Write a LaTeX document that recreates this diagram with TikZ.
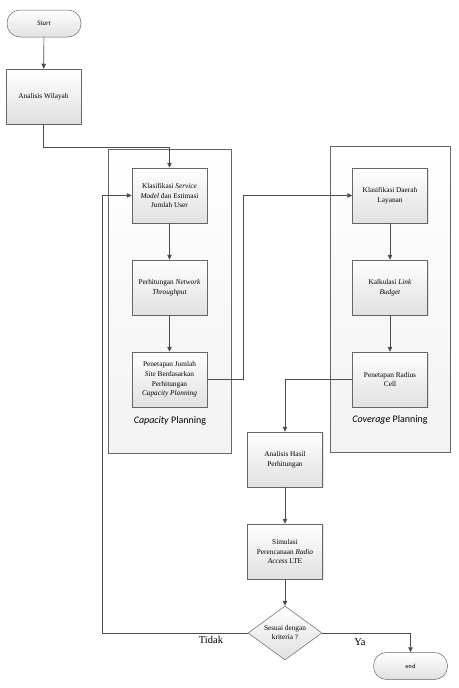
\documentclass[tikz,border=0pt]{standalone}
\usepackage{fontspec}
\setmainfont{Liberation Serif}
\newfontfamily\carlfont{Carlito}
\usetikzlibrary{shapes.geometric,shadows,arrows.meta}
\begin{document}
\begin{tikzpicture}[x=1pt,y=-1pt,
  line/.style={draw=black!70, line width=0.7pt},
  arr/.style={line, -{Triangle[length=5pt,width=4.5pt]}},
  procbox/.style={draw=black!60, line width=0.5pt, top color=white, bottom color=black!12,
    minimum width=75pt, minimum height=55pt, align=center, inner sep=2pt,
    font=\fontsize{7.3}{9.6}\selectfont,
    drop shadow={opacity=0.2, shadow xshift=1pt, shadow yshift=-1pt}},
  termbox/.style={draw=black!60, line width=0.5pt, top color=white, bottom color=black!12,
    rounded corners=13pt, minimum width=74pt, minimum height=27pt, align=center},
  group/.style={draw=black!60, line width=0.6pt, top color=white, bottom color=black!5},
  grouplabel/.style={font=\carlfont\fontsize{10}{12}\selectfont},
  yn/.style={font=\fontsize{10.5}{12}\selectfont}
]
\useasboundingbox (0,0) rectangle (458,688);
% containers
\path[group] (108,149) rectangle (231,453);
\path[group] (330,146) rectangle (450,452);
\node[grouplabel] (capl) at (170,421) {\textit{Capacity} Planning};
\node[grouplabel] (covl) at (390,420) {\textit{Coverage} Planning};

% nodes
\node[termbox, font=\fontsize{7}{8}\selectfont\itshape] (start) at (44,23.5) {Start};
\node[procbox] (wil) at (43.5,96.5) {Analisis Wilayah};
\node[procbox] (ks) at (169.5,195.5) {Klasifikasi \textit{Service}\\ \textit{Model} dan Estimasi\\ Jumlah User};
\node[procbox] (nt) at (169.5,287.5) {Perhitungan \textit{Network}\\ \textit{Throughput}};
\node[procbox] (pj) at (169.5,379.5) {Penetapan Jumlah\\ \textit{Site} Berdasarkan\\ Perhitungan\\ \textit{Capacity Planning}};
\node[procbox] (kd) at (390,195.5) {Klasifikasi Daerah\\ Layanan};
\node[procbox] (lb) at (390,287.5) {Kalkulasi \textit{Link}\\ \textit{Budget}};
\node[procbox] (pr) at (390,379.5) {Penetapan Radius\\ Cell};
\node[procbox] (ah) at (285,459.5) {Analisis Hasil\\ Perhitungan};
\node[procbox] (sim) at (285,551.5) {Simulasi\\ Perencanaan \textit{Radio}\\ \textit{Access} LTE};
\node[diamond, draw=black!60, line width=0.5pt, top color=white, bottom color=black!12,
  aspect=1.37, minimum width=74pt, minimum height=54pt, inner sep=0pt,
  align=center, font=\fontsize{7.3}{9}\selectfont] (dia) at (285,633) {Sesuai dengan\\ kriteria ?};
\node[termbox, font=\sffamily\fontsize{6.5}{8}\selectfont] (en) at (410.5,666) {end};

% helper coordinates
\coordinate (c1) at (169.5,147);
\coordinate (c2) at (243,379.5);
\coordinate (c3) at (102,633);

% connectors
\draw[arr] (start) -- (wil);
\draw[arr] (wil.south) |- (c1) -- (ks.north);
\draw[arr] (ks) -- (nt);
\draw[arr] (nt) -- (pj);
\draw[arr] (pj.east) -- (c2) |- (kd.west);
\draw[arr] (kd) -- (lb);
\draw[arr] (lb) -- (pr);
\draw[arr] (pr.west) -| (ah.north);
\draw[arr] (ah) -- (sim);
\draw[arr] (sim) -- (dia);
\draw[arr] (dia.east) -| (en.north);
\draw[arr] (dia.west) -- (c3) |- (ks.west);

\node[yn] (ya) at (360,642) {Ya};
\node[yn] (tidak) at (211,640) {Tidak};
\end{tikzpicture}
\end{document}
